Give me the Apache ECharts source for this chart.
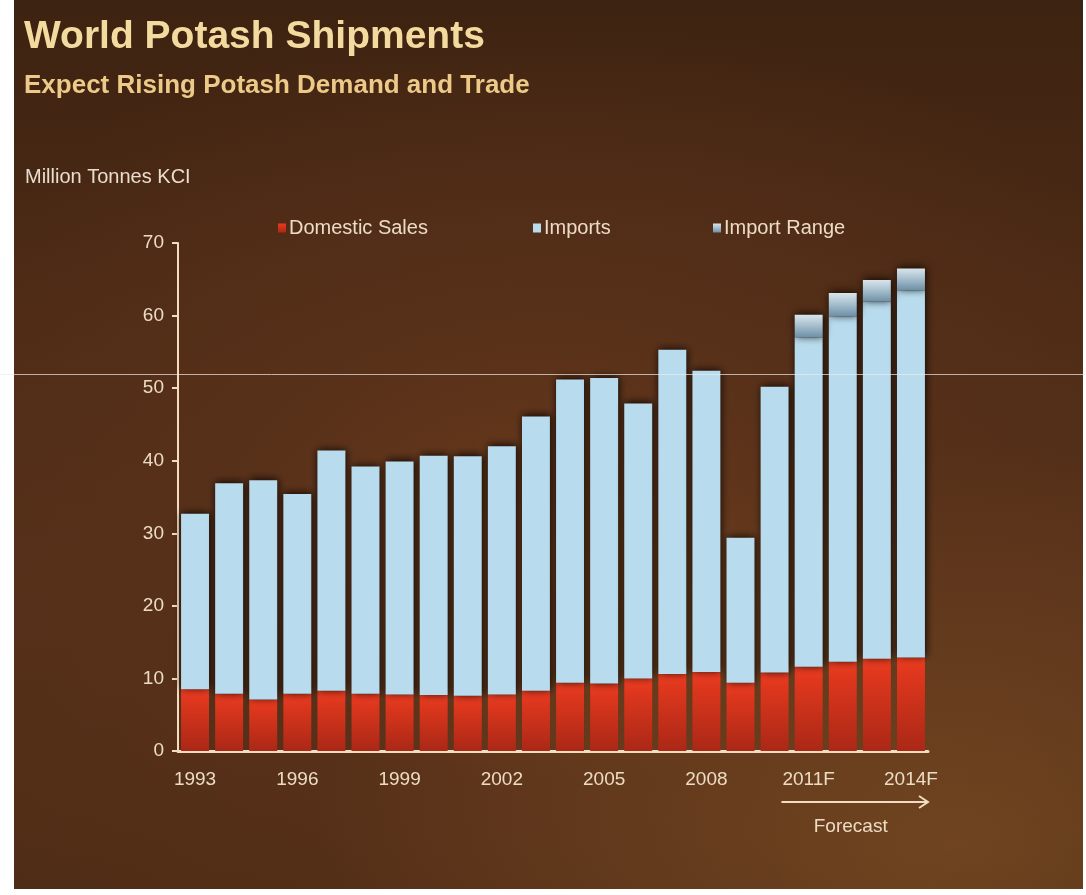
<!DOCTYPE html>
<html>
<head>
<meta charset="utf-8">
<script src="https://cdn.jsdelivr.net/npm/echarts@6/dist/echarts.min.js"></script>
<style>
  html, body { margin:0; padding:0; background:#ffffff; }
  #wrap { position:relative; width:1086px; height:895px; overflow:hidden; background:#ffffff; }
  #bg { position:absolute; left:14px; top:0; width:1069px; height:889px;
        background:
          radial-gradient(ellipse 60% 45% at 88% 95%, rgba(140,90,40,0.5) 0%, rgba(140,90,40,0) 100%),
          radial-gradient(ellipse 70% 60% at 50% 62%, #6a3a1b 0%, #573019 45%, rgba(60,34,16,0) 100%),
          linear-gradient(180deg, #3d2311 0%, #4a2914 30%, #55301a 65%, #4e2c15 100%); }
  #chart { position:absolute; left:0; top:0; width:1086px; height:895px; }
</style>
</head>
<body>
<div id="wrap">
  <div id="bg"></div>
  <div id="chart"></div>
</div>
<script>
// ---- data ----
const categories = ['1993','1994','1995','1996','1997','1998','1999','2000','2001','2002',
                    '2003','2004','2005','2006','2007','2008','2009','2010',
                    '2011F','2012F','2013F','2014F'];
const domesticSales = [8.5, 7.9, 7.1, 7.9, 8.3, 7.9, 7.8, 7.7, 7.6, 7.8,
                       8.3, 9.4, 9.3, 10.0, 10.6, 10.9, 9.4, 10.8,
                       11.6, 12.3, 12.7, 12.9];
const imports = [24.2, 29.0, 30.2, 27.5, 33.1, 31.3, 32.1, 33.0, 33.0, 34.2,
                 37.8, 41.8, 42.1, 37.9, 44.7, 41.5, 20.0, 39.4,
                 45.4, 47.6, 49.2, 50.6];
const importRange = ['-', '-', '-', '-', '-', '-', '-', '-', '-', '-',
                     '-', '-', '-', '-', '-', '-', '-', '-',
                     3.1, 3.2, 3.0, 3.0];
const yTicks = { min: 0, max: 70, interval: 10 };

const FONT = 'Liberation Sans, Arial, sans-serif';
const CREAM = '#eddcc4';
const AXIS = '#f3dcbf';

const chart = echarts.init(document.getElementById('chart'), null, { renderer: 'canvas' });

const shadow = { shadowColor: 'rgba(10,5,2,0.95)', shadowBlur: 8, shadowOffsetX: 1, shadowOffsetY: -1 };

chart.setOption({
  backgroundColor: 'transparent',
  animation: false,
  title: [
    { text: 'World Potash Shipments', left: 19, top: 13,
      textStyle: { fontFamily: FONT, fontWeight: 'bold', fontSize: 39, color: '#f3da9f' } },
    { text: 'Expect Rising Potash Demand and Trade', left: 19, top: 68,
      textStyle: { fontFamily: FONT, fontWeight: 'bold', fontSize: 26, color: '#edca88' } },
    { text: 'Million Tonnes KCI', left: 20, top: 162,
      textStyle: { fontFamily: FONT, fontWeight: 'normal', fontSize: 20, color: '#e9ddcd' } }
  ],
  legend: [
    { data: ['Domestic Sales'], left: 273, top: 213, icon: 'rect', itemWidth: 8, itemHeight: 9, itemGap: 5,
      textStyle: { fontFamily: FONT, fontSize: 20, color: CREAM, padding: [0,0,0,-2] } },
    { data: ['Imports'], left: 528, top: 213, icon: 'rect', itemWidth: 8, itemHeight: 9,
      textStyle: { fontFamily: FONT, fontSize: 20, color: CREAM, padding: [0,0,0,-2] } },
    { data: ['Import Range'], left: 708, top: 213, icon: 'rect', itemWidth: 8, itemHeight: 9,
      textStyle: { fontFamily: FONT, fontSize: 20, color: CREAM, padding: [0,0,0,-2] } }
  ],
  grid: { left: 178, right: 158, top: 243, bottom: 144, containLabel: false },
  xAxis: {
    type: 'category',
    data: categories,
    axisLine: { show: true, lineStyle: { color: AXIS, width: 3 } },
    axisTick: { show: false },
    axisLabel: { interval: 2, color: CREAM, fontFamily: FONT, fontSize: 19, margin: 19 },
    splitLine: { show: false }
  },
  yAxis: {
    type: 'value',
    min: yTicks.min, max: yTicks.max, interval: yTicks.interval,
    axisLine: { show: true, lineStyle: { color: AXIS, width: 2 } },
    axisTick: { show: true, length: 6, lineStyle: { color: AXIS, width: 2 } },
    axisLabel: { color: CREAM, fontFamily: FONT, fontSize: 19, margin: 14 },
    splitLine: { show: false }
  },
  series: [
    { name: 'Domestic Sales', type: 'bar', stack: 'total', data: domesticSales,
      barCategoryGap: '18%',
      itemStyle: Object.assign({
        color: new echarts.graphic.LinearGradient(0, 0, 0, 1, [
          { offset: 0, color: '#ea3a1f' }, { offset: 1, color: '#aa2816' }])
      }, shadow) },
    { name: 'Imports', type: 'bar', stack: 'total', data: imports,
      itemStyle: Object.assign({ color: '#b8dcee' }, shadow) },
    { name: 'Import Range', type: 'bar', stack: 'total', data: importRange,
      itemStyle: Object.assign({
        color: new echarts.graphic.LinearGradient(0, 0, 0, 1, [
          { offset: 0, color: '#d9e5ec' }, { offset: 0.45, color: '#a9c1cf' }, { offset: 1, color: '#6d8fa6' }])
      }, shadow) }
  ]
});

// Forecast annotation positioned from the category axis
const catW = chart.convertToPixel({ xAxisIndex: 0 }, '2012F') - chart.convertToPixel({ xAxisIndex: 0 }, '2011F');
const xStart = chart.convertToPixel({ xAxisIndex: 0 }, '2011F') - catW * 0.8;
const xEnd = chart.convertToPixel({ xAxisIndex: 0 }, '2014F') + catW * 0.5;
const yBase = chart.convertToPixel({ yAxisIndex: 0 }, 0);
const yArrow = yBase + 51;

chart.setOption({
  graphic: [
    { id: 'arrowLine', type: 'line', z: 50,
      shape: { x1: xStart, y1: yArrow, x2: xEnd - 1, y2: yArrow },
      style: { stroke: AXIS, lineWidth: 2 } },
    { id: 'arrowHead', type: 'polyline', z: 50,
      shape: { points: [[xEnd - 9, yArrow - 6], [xEnd, yArrow], [xEnd - 9, yArrow + 6]] },
      style: { stroke: AXIS, lineWidth: 2, fill: null } },
    { id: 'forecastText', type: 'text', z: 50,
      x: (xStart + xEnd) / 2 - 4, y: yArrow + 25,
      style: { text: 'Forecast', fill: CREAM, font: '19px ' + FONT, textAlign: 'center', textVerticalAlign: 'middle' } },
    { id: 'scanLine', type: 'line', z: 100,
      shape: { x1: 0, y1: 374.5, x2: 1086, y2: 374.5 },
      style: { stroke: 'rgba(235,235,235,0.7)', lineWidth: 1 } }
  ]
});
</script>
</body>
</html>
